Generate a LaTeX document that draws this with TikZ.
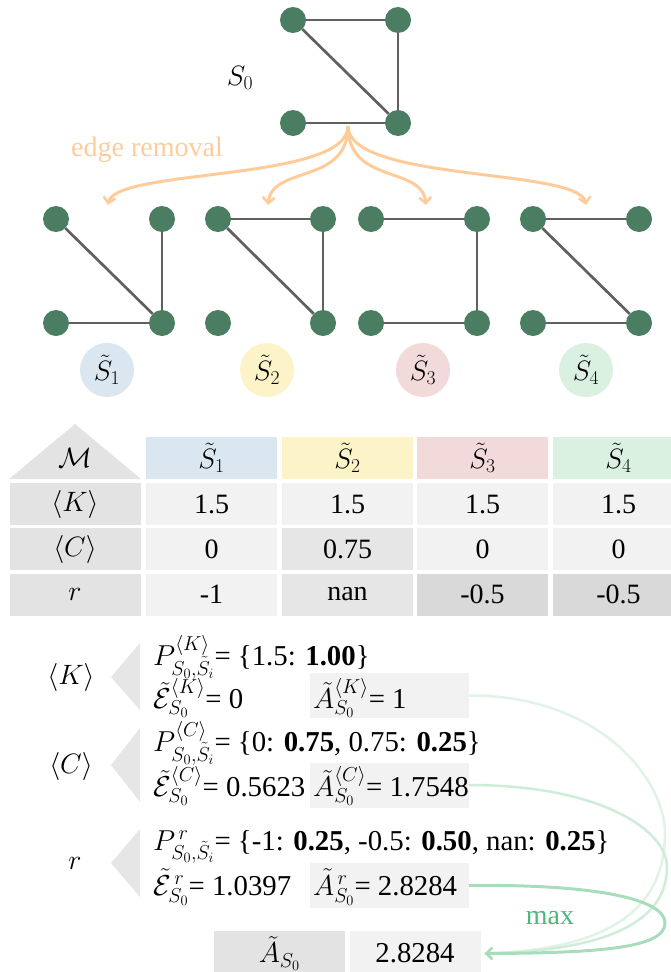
\RequirePackage{fix-cm}
\documentclass[tikz,border=0pt]{standalone}
\usepackage{fontspec}
\setmainfont{Liberation Serif}
\usetikzlibrary{arrows.meta}

\definecolor{vgreen}{HTML}{4B7D63}
\definecolor{egray}{HTML}{606060}
\definecolor{removal}{HTML}{FFCC99}
\definecolor{cellgray}{HTML}{F2F2F2}
\definecolor{labgray}{HTML}{E3E3E3}
\definecolor{midgray}{HTML}{E6E6E6}
\definecolor{darkgray}{HTML}{D9D9D9}
\definecolor{sblue}{HTML}{DAE6F0}
\definecolor{syellow}{HTML}{FCF3C8}
\definecolor{spink}{HTML}{F2DADA}
\definecolor{sgreen}{HTML}{DAF0E0}
\definecolor{maxgreen}{HTML}{A8DDBB}
\definecolor{maxtext}{HTML}{4CB87A}

\begin{document}
\begin{tikzpicture}[x=1pt,y=-1pt,
  every node/.style={font=\fontsize{28}{32}\selectfont},
  bigtext/.style={font=\fontsize{28.8}{33}\selectfont},
  vtx/.style={circle,fill=vgreen,minimum size=26pt,inner sep=0pt},
  edge/.style={draw=egray,line width=2.7pt},
  removalarrow/.style={draw=removal,line width=3pt,
    -{Straight Barb[length=6pt,width=12pt,line width=2.5pt]}},
  badge/.style={circle,minimum size=54pt,inner sep=0pt},
  cell/.style={rectangle,minimum width=131pt,minimum height=42pt,inner sep=0pt,fill=cellgray},
  labcell/.style={cell,fill=labgray},
  chevron/.style={fill=midgray},
  abox/.style={rectangle,fill=cellgray,minimum width=159pt,minimum height=45pt,inner sep=0pt},
  eqline/.style={bigtext,anchor=west,inner sep=0pt},
  maxcurve/.style={draw=maxgreen,line width=3pt},
]
\useasboundingbox (0,0) rectangle (671,972);

% ---------- original graph S_0 ----------
\node[vtx] (o1) at (293,20) {};
\node[vtx] (o2) at (398,20) {};
\node[vtx] (o3) at (293,123) {};
\node[vtx] (o4) at (398,123) {};
\draw[edge] (o1) -- (o2);
\draw[edge] (o1) -- (o4);
\draw[edge] (o2) -- (o4);
\draw[edge] (o3) -- (o4);
\node (s0) at (240,78) {$S_0$};

% ---------- edge removal arrows ----------
\coordinate (split) at (348,126);
\node[text=removal] (rm) at (147,150) {edge removal};
\coordinate (t1) at (108,205);
\coordinate (t2) at (268,205);
\coordinate (t3) at (426,205);
\coordinate (t4) at (586,205);
\draw[removalarrow] (split) .. controls (348,182) and (115,168) .. (t1);
\draw[removalarrow] (split) .. controls (348,185) and (272,165) .. (t2);
\draw[removalarrow] (split) .. controls (348,185) and (422,165) .. (t3);
\draw[removalarrow] (split) .. controls (348,182) and (579,168) .. (t4);

% ---------- subgraphs ----------
% S1: top edge removed
\node[vtx] (a1) at (56,219) {};
\node[vtx] (a2) at (162,219) {};
\node[vtx] (a3) at (56,323) {};
\node[vtx] (a4) at (162,323) {};
\draw[edge] (a1) -- (a4);
\draw[edge] (a2) -- (a4);
\draw[edge] (a3) -- (a4);
% S2: bottom edge removed
\node[vtx] (b1) at (218,219) {};
\node[vtx] (b2) at (323,219) {};
\node[vtx] (b3) at (218,323) {};
\node[vtx] (b4) at (323,323) {};
\draw[edge] (b1) -- (b2);
\draw[edge] (b1) -- (b4);
\draw[edge] (b2) -- (b4);
% S3: diagonal removed
\node[vtx] (c1) at (371,219) {};
\node[vtx] (c2) at (477,219) {};
\node[vtx] (c3) at (371,323) {};
\node[vtx] (c4) at (477,323) {};
\draw[edge] (c1) -- (c2);
\draw[edge] (c2) -- (c4);
\draw[edge] (c3) -- (c4);
% S4: right edge removed
\node[vtx] (d1) at (533,219) {};
\node[vtx] (d2) at (639,219) {};
\node[vtx] (d3) at (533,323) {};
\node[vtx] (d4) at (639,323) {};
\draw[edge] (d1) -- (d2);
\draw[edge] (d1) -- (d4);
\draw[edge] (d3) -- (d4);

\node[badge,fill=sblue] (g1) at (107,370) {$\tilde{S}_1$};
\node[badge,fill=syellow] (g2) at (267,370) {$\tilde{S}_2$};
\node[badge,fill=spink] (g3) at (423,370) {$\tilde{S}_3$};
\node[badge,fill=sgreen] (g4) at (586,370) {$\tilde{S}_4$};

% ---------- metric table ----------
\fill[labgray] (9,479) -- (75,424) -- (141,479) -- cycle;
\node (hm) at (75,458) {$\mathcal{M}$};
\node[cell,fill=sblue] (h1) at (211.5,458) {$\tilde{S}_1$};
\node[cell,fill=syellow] (h2) at (347.5,458) {$\tilde{S}_2$};
\node[cell,fill=spink] (h3) at (482.5,458) {$\tilde{S}_3$};
\node[cell,fill=sgreen] (h4) at (618.5,458) {$\tilde{S}_4$};

\node[labcell] (lk) at (75,504) {$\langle K\rangle$};
\node[cell] (k1) at (211.5,504) {1.5};
\node[cell] (k2) at (347.5,504) {1.5};
\node[cell] (k3) at (482.5,504) {1.5};
\node[cell] (k4) at (618.5,504) {1.5};

\node[labcell] (lc) at (75,549) {$\langle C\rangle$};
\node[cell] (c1v) at (211.5,549) {0};
\node[cell,fill=midgray] (c2v) at (347.5,549) {0.75};
\node[cell] (c3v) at (482.5,549) {0};
\node[cell] (c4v) at (618.5,549) {0};

\node[labcell] (lr) at (75,594.5) {$r$};
\node[cell] (r1) at (211.5,594.5) {-1};
\node[cell,fill=midgray] (r2) at (347.5,594.5) {nan};
\node[cell,fill=darkgray] (r3) at (482.5,594.5) {-0.5};
\node[cell,fill=darkgray] (r4) at (618.5,594.5) {-0.5};

% ---------- per-metric distributions ----------
% <K>
\node (mk) at (71,677) {$\langle K\rangle$};
\fill[chevron] (140,643) -- (140,710) -- (111,677) -- cycle;
\node[abox] (ak) at (389.5,695.5) {};
\node[eqline] (pk) at (153,657) {$P^{\langle K\rangle}_{S_0,\tilde{S}_i}$= \{1.5: \textbf{1.00}\}};
\node[eqline] (ek) at (153,698) {$\tilde{\mathcal{E}}^{\langle K\rangle}_{S_0}$= 0};
\node[eqline] (vk) at (313,698) {$\tilde{A}^{\langle K\rangle}_{S_0}$= 1};

% <C>
\node (mc) at (71,766) {$\langle C\rangle$};
\fill[chevron] (140,728) -- (140,802) -- (111,765) -- cycle;
\node[abox] (ac) at (389.5,785) {};
\node[eqline] (pc) at (153,743) {$P^{\langle C\rangle}_{S_0,\tilde{S}_i}$= \{0: \textbf{0.75}, 0.75: \textbf{0.25}\}};
\node[eqline] (ec) at (153,786) {$\tilde{\mathcal{E}}^{\langle C\rangle}_{S_0}$= 0.5623};
\node[eqline] (vc) at (313,786) {$\tilde{A}^{\langle C\rangle}_{S_0}$= 1.7548};

% r
\node (mr) at (75,863) {$r$};
\fill[chevron] (140,829) -- (140,897) -- (111,863) -- cycle;
\node[abox] (ar) at (389.5,885.5) {};
\node[eqline] (pr) at (153,847) {$P^{\,r}_{S_0,\tilde{S}_i}$= \{-1: \textbf{0.25}, -0.5: \textbf{0.50}, nan: \textbf{0.25}\}};
\node[eqline] (er) at (153,887) {$\tilde{\mathcal{E}}^{\,r}_{S_0}$= 1.0397};
\node[eqline] (vr) at (313,887) {$\tilde{A}^{\,r}_{S_0}$= 2.8284};

% ---------- final score ----------
\node[labcell,bigtext,minimum height=45pt] (fa) at (279.5,953.5) {$\tilde{A}_{S_0}$};
\node[cell,bigtext,minimum height=45pt] (fv) at (415,953.5) {2.8284};
\node[text=maxtext] (mx) at (550,918) {max};

\coordinate (tip) at ([xshift=4pt]fv.east);
\draw[maxcurve,draw=maxgreen!35,line width=2.5pt] (ak.east) .. controls (600,695) and (665,780) .. (665,833)
  .. controls (665,915) and (600,950) .. (tip);
\draw[maxcurve,draw=maxgreen!55,line width=2.5pt] (ac.east) .. controls (600,785) and (667,830) .. (667,867)
  .. controls (667,925) and (600,951) .. (tip);
\draw[maxcurve,-{Straight Barb[length=6pt,width=12pt,line width=2.5pt]}] (ar.east) .. controls (600,884) and (665,900) .. (665,923)
  .. controls (665,948) and (600,953) .. (tip);
\end{tikzpicture}
\end{document}
